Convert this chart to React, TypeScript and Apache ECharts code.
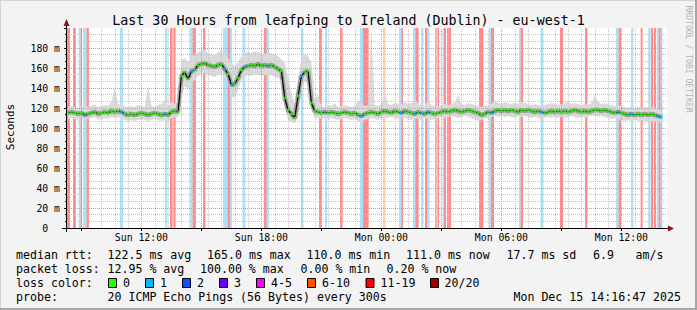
import React, { useEffect, useRef } from 'react';
import * as echarts from 'echarts';

// ---- time frame (hours since Sun 00:00) ----
const START_HOUR = 8 + 16 / 60 + 47 / 3600; // Sun 08:16:47
const END_HOUR = START_HOUR + 30; // Mon 14:16:47
const FIRST_SAMPLE_HOUR = 8 + 20 / 60; // Sun 08:20
const SAMPLE_STEP_HOURS = 10 / 60;

// ---- median rtt (ms), one value per 10 minutes ----
const medianRtt = [
  115, 116, 115, 114, 115, 113, 114, 115, 116, 114, 115, 116, 115, 117, 116, 117, 116, 114, 113, 114,
  113, 114, 115, 114, 113, 114, 115, 114, 113, 114, 113, 116, 117, 116,
  152, 156, 149, 157, 158, 163, 164, 165, 163, 162, 161, 163, 164, 159, 154, 143, 144, 150, 158, 161,
  162, 163, 162, 164, 162, 163, 162, 163, 161, 159, 157, 130, 118, 114, 110, 132, 152, 156, 157, 125, 117,
  116, 115, 116, 115, 116, 115, 114, 115, 116, 115, 114, 115, 113, 112, 114, 115, 116, 115, 114, 116,
  117, 116, 115, 117, 116, 115, 117, 116, 115, 114, 116, 115, 114, 116, 115, 114, 115, 116, 117, 116,
  117, 118, 117, 116, 117, 118, 117, 116, 115, 113, 114, 116, 115, 117, 118, 117, 118, 117, 118, 117,
  116, 118, 117, 118, 117, 116, 117, 116, 115, 116, 117, 116, 117, 116, 117, 116, 117, 118, 117, 116,
  117, 116, 117, 118, 118, 117, 118, 117, 116, 115, 116, 115, 114, 113, 114, 113, 114, 113, 114, 113,
  114, 113, 112, 111,
];

// ---- smoke: lowest and highest ping of each sample (ms) ----
const smokeLow = [
  109, 110, 109, 108, 110, 108, 109, 110, 111, 108, 109, 110, 109, 111, 110, 111, 110, 108, 107, 108,
  107, 108, 109, 108, 107, 108, 109, 108, 107, 108, 107, 110, 111, 110,
  130, 142, 138, 146, 148, 152, 154, 155, 153, 152, 151, 153, 154, 150, 146, 132, 130, 138, 148, 152,
  153, 152, 154, 153, 152, 153, 152, 153, 151, 150, 148, 120, 108, 106, 105, 110, 135, 146, 146, 118, 110,
  110, 109, 110, 109, 110, 109, 108, 109, 110, 109, 108, 109, 107, 106, 108, 109, 110, 109, 108, 110,
  111, 110, 111, 110, 109, 111, 110, 109, 108, 110, 109, 108, 110, 109, 108, 109, 110, 111, 110, 111,
  112, 111, 110, 111, 112, 111, 110, 109, 107, 108, 110, 109, 111, 112, 111, 112, 111, 112, 111, 110,
  112, 111, 112, 111, 110, 111, 110, 109, 110, 111, 110, 111, 110, 111, 110, 111, 112, 111, 110, 111,
  110, 111, 112, 112, 111, 112, 111, 110, 109, 110, 109, 108, 107, 108, 107, 108, 107, 108, 107, 106,
  107, 106, 106, 105,
];
const smokeHigh = [
  121, 122, 121, 120, 122, 123, 121, 122, 124, 121, 122, 123, 122, 126, 140, 124, 123, 122, 121, 122,
  121, 123, 122, 121, 142, 122, 121, 123, 124, 128, 122, 126, 124, 125,
  168, 170, 166, 172, 173, 176, 177, 178, 175, 174, 173, 176, 178, 174, 170, 165, 162, 166, 172, 175,
  176, 175, 177, 176, 175, 174, 176, 175, 173, 172, 168, 166, 150, 135, 124, 150, 168, 174, 172, 165, 130,
  133, 122, 121, 123, 122, 125, 121, 122, 123, 122, 121, 122, 128, 124, 122, 123, 199, 123, 122, 124,
  135, 124, 123, 125, 124, 123, 126, 124, 125, 130, 124, 123, 122, 128, 123, 122, 121, 123, 124, 123,
  124, 125, 133, 124, 123, 125, 124, 123, 122, 121, 122, 123, 124, 128, 125, 124, 126, 125, 124, 125,
  124, 126, 125, 124, 123, 124, 123, 122, 123, 124, 125, 124, 123, 124, 125, 126, 124, 125, 124, 123,
  124, 123, 125, 133, 126, 124, 125, 124, 123, 122, 123, 122, 121, 120, 121, 120, 121, 120, 121, 120,
  121, 120, 119, 118,
];

// ---- packet loss periods: [start hour, end hour, class] r = heavy, b = light, o = medium ----
const lossBars: [number, number, string][] = [
  [8.28, 8.43, 'r'], [8.58, 8.73, 'r'], [8.86, 8.96, 'b'], [8.96, 9.03, 'r'], [9.08, 9.26, 'b'],
  [9.26, 9.38, 'r'], [10.93, 11.08, 'b'], [13.18, 13.3, 'b'], [13.43, 13.56, 'r'], [13.6, 13.71, 'r'],
  [14.4, 14.56, 'b'], [14.56, 14.73, 'r'], [15.08, 15.2, 'r'], [16.08, 16.28, 'b'], [16.3, 16.43, 'r'],
  [16.43, 16.53, 'b'], [17.05, 17.2, 'b'], [18.13, 18.26, 'r'], [18.26, 18.38, 'b'], [19.98, 20.1, 'b'],
  [20.88, 21.0, 'r'], [21.18, 21.28, 'b'], [21.93, 22.06, 'r'], [22.93, 23.08, 'b'], [23.08, 23.36, 'r'],
  [24.08, 24.2, 'o'], [24.88, 25.0, 'b'], [25.0, 25.08, 'r'], [25.58, 25.7, 'b'], [25.7, 25.86, 'r'],
  [26.0, 26.1, 'b'], [26.18, 26.28, 'r'], [26.28, 26.4, 'b'], [26.68, 26.76, 'r'], [26.8, 26.88, 'r'],
  [27.06, 27.13, 'b'], [27.13, 27.23, 'r'], [27.28, 27.48, 'r'], [28.88, 29.1, 'r'], [29.38, 29.48, 'b'],
  [29.48, 29.63, 'r'], [30.88, 30.96, 'b'], [30.96, 31.08, 'r'], [31.96, 32.1, 'b'], [32.93, 33.08, 'r'],
  [34.18, 34.3, 'r'], [35.73, 35.86, 'b'], [35.86, 35.98, 'r'], [36.48, 36.6, 'b'], [36.96, 37.06, 'r'],
  [37.36, 37.46, 'b'], [37.48, 37.58, 'r'], [37.63, 37.73, 'r'], [37.76, 37.86, 'b'], [37.86, 37.96, 'r'],
  [37.96, 38.06, 'b'],
];

// ---- axis labels ----
const tickLabelHours = [12, 18, 24, 30, 36];
const tickLabels = ['Sun 12:00', 'Sun 18:00', 'Mon 00:00', 'Mon 06:00', 'Mon 12:00'];

// ---- texts ----
const titleText = 'Last 30 Hours from leafping to Ireland (Dublin) - eu-west-1';
const medianStats = ['122.5 ms avg', '165.0 ms max', '110.0 ms min', '111.0 ms now', '17.7 ms sd', '6.9', 'am/s'];
const lossStats = ['12.95 % avg', '100.00 % max', '0.00 % min', '0.20 % now'];
const lossLegendLabels = ['0', '1', '2', '3', '4-5', '6-10', '11-19', '20/20'];
const lossLegendColors = ['#26ff00', '#00b8ff', '#0059ff', '#6a00ff', '#ff00ff', '#ff5500', '#ff0000', '#a00000'];
const probeText = '20 ICMP Echo Pings (56 Bytes) every 300s';
const dateText = 'Mon Dec 15 14:16:47 2025';

const MONO = 'DejaVu Sans Mono';

function buildOption(): any {
  const hours = medianRtt.map((_, i) => FIRST_SAMPLE_HOUR + i * SAMPLE_STEP_HOURS);
  const barFill: Record<string, string> = {
    r: 'rgba(255,0,0,0.45)',
    b: 'rgba(0,165,235,0.32)',
    o: 'rgba(255,110,30,0.35)',
  };
  const inLight = (h: number) => lossBars.some(([s, e, c]) => c === 'b' && h >= s - 0.02 && h <= e + 0.02);

  // grid lines
  const minorV: number[] = [];
  for (let m = 520; m / 60 < END_HOUR; m += 40) minorV.push(m / 60);
  const majorV: number[] = [];
  for (let h = 9; h < END_HOUR; h += 3) majorV.push(h);
  const minorH: number[] = [];
  for (let k = 1; (k * 20) / 3 < 200; k++) if (k % 3 !== 0) minorH.push((k * 20) / 3);
  const majorH: number[] = [];
  for (let v = 20; v < 200; v += 20) majorH.push(v);
  const minorStyle = { color: '#c4c4c4', width: 1, type: [1, 1] };
  const majorStyle = { color: '#e58f8f', width: 1, type: [1, 1] };

  const text = (x: number, y: number, t: string, size: number, extra: any = {}) => ({
    type: 'text',
    x,
    y,
    z: 100,
    style: {
      text: t,
      fontFamily: MONO,
      fontSize: size,
      fill: '#000',
      textAlign: 'left',
      textVerticalAlign: 'middle',
      ...(extra.style || {}),
    },
    ...(extra.el || {}),
  });

  const LEG = 11.6;
  const medianX = [107.5, 207, 306.5, 406, 506.5, 593, 635.5];
  const lossX = [107.5, 200, 300.5, 386.5];
  const boxX = [108.5, 145.5, 182.5, 219.5, 256.5, 307.5, 366, 430.5];
  const boxTextX = [123, 160, 197, 234, 271, 322, 380.5, 444.5];

  const graphic: any[] = [
    // frame
    { type: 'rect', z: 100, shape: { x: 0, y: 0, width: 697, height: 1 }, style: { fill: '#d4d4d4' } },
    { type: 'rect', z: 100, shape: { x: 0, y: 0, width: 1, height: 310 }, style: { fill: '#d4d4d4' } },
    { type: 'rect', z: 100, shape: { x: 695, y: 0, width: 2, height: 310 }, style: { fill: '#a6a6a6' } },
    { type: 'rect', z: 100, shape: { x: 0, y: 308, width: 697, height: 2 }, style: { fill: '#a6a6a6' } },
    // axes with arrows
    { type: 'line', z: 90, shape: { x1: 62, y1: 228.5, x2: 669, y2: 228.5 }, style: { stroke: '#000', lineWidth: 1 } },
    { type: 'line', z: 90, shape: { x1: 66.5, y1: 232, x2: 66.5, y2: 25 }, style: { stroke: '#000', lineWidth: 1 } },
    { type: 'polygon', z: 91, shape: { points: [[66.5, 19], [63.5, 26], [69.5, 26]] }, style: { fill: '#8a1414' } },
    { type: 'polygon', z: 91, shape: { points: [[674, 228.5], [668, 225.5], [668, 231.5]] }, style: { fill: '#8a1414' } },
    // title & side texts
    text(348.5, 20, titleText, 13.3, { style: { textAlign: 'center' } }),
    text(10, 127, 'Seconds', 11, { style: { textAlign: 'center' }, el: { rotation: Math.PI / 2 } }),
    text(688.5, 59, 'RRDTOOL / TOBI OETIKER', 8.1, {
      style: { textAlign: 'center', fill: '#b5b5b5' },
      el: { rotation: -Math.PI / 2 },
    }),
    // legend
    text(16, 255, 'median rtt:', LEG),
    ...medianStats.map((s, i) => text(medianX[i], 255, s, LEG)),
    text(16, 269, 'packet loss:', LEG),
    ...lossStats.map((s, i) => text(lossX[i], 269, s, LEG)),
    text(16, 283, 'loss color:', LEG),
    ...lossLegendLabels.map((s, i) => text(boxTextX[i], 283, s, LEG)),
    ...lossLegendColors.map((c, i) => ({
      type: 'rect',
      z: 100,
      shape: { x: boxX[i], y: 278.5, width: 8, height: 9 },
      style: { fill: c, stroke: '#000', lineWidth: 1 },
    })),
    text(16, 297, 'probe:', LEG),
    text(107.5, 297, probeText, LEG),
    text(681, 297, dateText, LEG, { style: { textAlign: 'right' } }),
  ];

  // smoke band drawn through the axes' scales
  const smokeRender = (_params: any, api: any) => {
    const upper = hours.map((h, i) => api.coord([h, smokeHigh[i]]));
    const lower = hours.map((h, i) => api.coord([h, smokeLow[i]])).reverse();
    return {
      type: 'polygon',
      shape: { points: upper.concat(lower) },
      style: { fill: '#dadada' },
      silent: true,
    };
  };

  return {
    animation: false,
    backgroundColor: '#f3f3f3',
    grid: { left: 67, top: 28, width: 600, height: 200, show: true, backgroundColor: '#ffffff', borderWidth: 0 },
    xAxis: {
      type: 'value',
      min: START_HOUR,
      max: END_HOUR,
      axisLine: { show: false },
      splitLine: { show: false },
      axisTick: { show: true, customValues: majorV, length: 3, lineStyle: { color: '#000' } },
      axisLabel: {
        customValues: tickLabelHours,
        formatter: (v: number) => {
          const i = tickLabelHours.findIndex((h) => Math.abs(h - v) < 1e-6);
          return i >= 0 ? tickLabels[i] : '';
        },
        fontFamily: MONO,
        fontSize: 9.8,
        color: '#000',
        margin: 4,
      },
    },
    yAxis: {
      type: 'value',
      min: 0,
      max: 200,
      interval: 20,
      axisLine: { show: false },
      splitLine: { show: false },
      axisTick: { show: true, length: 3, lineStyle: { color: '#000' } },
      minorTick: { show: true, splitNumber: 3, length: 2, lineStyle: { color: '#000' } },
      axisLabel: {
        showMaxLabel: false,
        formatter: (v: number) => (v === 0 ? '0\u00a0\u00a0' : `${v} m`),
        fontFamily: MONO,
        fontSize: 9.8,
        color: '#000',
        margin: 7,
      },
    },
    graphic,
    series: [
      {
        name: 'loss',
        type: 'line',
        z: 1,
        data: [[START_HOUR, null]],
        symbol: 'none',
        silent: true,
        markArea: {
          silent: true,
          data: lossBars.map(([s, e, c]) => [{ xAxis: s, itemStyle: { color: barFill[c] } }, { xAxis: e }]),
        },
      },
      {
        name: 'grid',
        type: 'line',
        z: 2,
        data: [[START_HOUR, null]],
        symbol: 'none',
        silent: true,
        markLine: {
          silent: true,
          symbol: ['none', 'none'],
          label: { show: false },
          data: [
            ...minorV.map((h) => ({ xAxis: h, lineStyle: minorStyle })),
            ...minorH.map((v) => ({ yAxis: v, lineStyle: minorStyle })),
            ...majorV.map((h) => ({ xAxis: h, lineStyle: majorStyle })),
            ...majorH.map((v) => ({ yAxis: v, lineStyle: majorStyle })),
          ],
        },
      },
      {
        name: 'smoke',
        type: 'custom',
        z: 3,
        silent: true,
        renderItem: smokeRender,
        data: [[hours[0], smokeLow[0]]],
      },
      {
        name: 'core',
        type: 'line',
        z: 4,
        data: hours.map((h, i) => [h, medianRtt[i]]),
        symbol: 'none',
        silent: true,
        lineStyle: { width: 4.5, color: 'rgba(60,60,60,0.4)' },
      },
      {
        name: 'median',
        type: 'line',
        z: 5,
        data: hours.map((h, i) => [h, medianRtt[i]]),
        symbol: 'none',
        silent: true,
        lineStyle: { width: 1.2, color: '#000' },
      },
      {
        name: 'medianColor',
        type: 'scatter',
        z: 6,
        silent: true,
        symbol: 'rect',
        symbolSize: [2.9, 2.6],
        data: hours.map((h, i) => ({
          value: [h, medianRtt[i]],
          itemStyle: { color: inLight(h) ? '#00b8ff' : '#26ff00' },
        })),
      },
    ],
  };
}

export default function App() {
  const ref = useRef<HTMLDivElement>(null);
  useEffect(() => {
    if (!ref.current) return;
    const chart = echarts.init(ref.current, undefined, { renderer: 'svg' });
    chart.setOption(buildOption());
    return () => chart.dispose();
  }, []);
  return <div ref={ref} style={{ position: 'fixed', left: 0, top: 0, width: 697, height: 310 }} />;
}
